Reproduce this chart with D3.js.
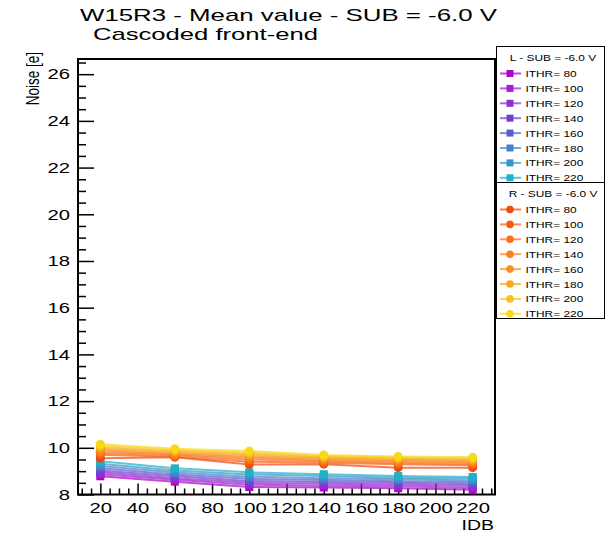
<!DOCTYPE html>
<html>
<head>
<meta charset="utf-8">
<script src="https://cdn.jsdelivr.net/npm/d3@7"></script>
<style>
  html, body { margin: 0; padding: 0; background: #fff; }
  svg text { font-family: "Liberation Sans", Arial, sans-serif; fill: #000; }
</style>
</head>
<body>
<div id="chart"></div>
<script>
// x values (IDB) and series labels (ITHR)
const idb = [20, 60, 100, 140, 180, 220];
const ithr = [80, 100, 120, 140, 160, 180, 200, 220];

// left half of the matrix, mean noise [e] per ITHR (rows) vs IDB (cols)
const noiseL = [
  [8.78, 8.55, 8.32, 8.30, 8.27, 8.20],
  [8.87, 8.63, 8.42, 8.38, 8.35, 8.28],
  [8.95, 8.70, 8.50, 8.46, 8.43, 8.36],
  [9.03, 8.78, 8.58, 8.54, 8.50, 8.44],
  [9.12, 8.86, 8.67, 8.62, 8.57, 8.52],
  [9.22, 8.94, 8.76, 8.70, 8.65, 8.60],
  [9.32, 9.03, 8.86, 8.79, 8.72, 8.68],
  [9.42, 9.12, 8.95, 8.87, 8.79, 8.75]
];
// right half
const noiseR = [
  [9.55, 9.60, 9.28, 9.30, 9.15, 9.15],
  [9.70, 9.62, 9.40, 9.36, 9.30, 9.25],
  [9.78, 9.68, 9.50, 9.42, 9.36, 9.32],
  [9.85, 9.72, 9.58, 9.48, 9.42, 9.38],
  [9.93, 9.78, 9.65, 9.54, 9.48, 9.44],
  [10.00, 9.84, 9.72, 9.59, 9.53, 9.49],
  [10.08, 9.90, 9.79, 9.64, 9.58, 9.54],
  [10.15, 9.96, 9.86, 9.69, 9.63, 9.59]
];
const errL = 0.06;
const errR = 0.14;

const colorsL = ['#b000c8', '#a020d0', '#8c30d0', '#7440d0', '#5860c8', '#4a80d0', '#3498c8', '#20b0c8'];
const colorsR = ['#f04a10', '#f85a10', '#f87018', '#f88020', '#f89020', '#f8a818', '#f8c020', '#f8d818'];

const xTicks = [20, 40, 60, 80, 100, 120, 140, 160, 180, 200, 220];
const yTicks = [8, 10, 12, 14, 16, 18, 20, 22, 24, 26];

const W = 606, H = 535;
const mLeft = 78, mRight = 495, mTop = 59, mBottom = 494.5;
const SX = 1.25; // the picture is a bit wider than tall, so stretch text

const svg = d3.select('#chart').append('svg')
  .attr('width', W)
  .attr('height', H);

const x = d3.scaleLinear().domain([8, 232]).range([mLeft, mRight]);
const y = d3.scaleLinear().domain([8, 26.65]).range([mBottom, mTop]);

// helper: text stretched horizontally
function label(g, tx, ty, str, size, anchor, sx) {
  return g.append('text')
    .attr('transform', `translate(${tx},${ty}) scale(${sx || SX},1)`)
    .attr('font-size', size)
    .attr('text-anchor', anchor || 'start')
    .text(str);
}

// title (two lines)
svg.append('text')
  .attr('x', 80).attr('y', 21)
  .attr('font-size', 17)
  .attr('textLength', 417)
  .attr('lengthAdjust', 'spacingAndGlyphs')
  .text('W15R3 - Mean value - SUB = -6.0 V');
svg.append('text')
  .attr('x', 93).attr('y', 40)
  .attr('font-size', 17)
  .attr('textLength', 225)
  .attr('lengthAdjust', 'spacingAndGlyphs')
  .text('Cascoded front-end');

// x axis: minor then major ticks, drawn inside the frame
const xMinor = d3.range(10, 232, 5).filter(v => v % 20 !== 0);
svg.append('g')
  .attr('transform', `translate(0,${mBottom})`)
  .call(d3.axisBottom(x).tickValues(xMinor).tickSizeInner(-6).tickSizeOuter(0).tickFormat(''))
  .call(g => g.select('.domain').remove())
  .call(g => g.selectAll('line').attr('stroke', '#000').attr('stroke-width', 1.5));

const xAxis = svg.append('g')
  .attr('transform', `translate(0,${mBottom})`)
  .call(d3.axisBottom(x).tickValues(xTicks).tickSizeInner(-11).tickSizeOuter(0).tickPadding(8))
  .call(g => g.select('.domain').remove())
  .call(g => g.selectAll('line').attr('stroke', '#000').attr('stroke-width', 1.5));
xAxis.selectAll('text')
  .attr('font-size', 15)
  .attr('fill', '#000')
  .attr('font-family', '"Liberation Sans", Arial, sans-serif')
  .attr('transform', 'scale(1.35,1)');

// y axis
const yMinor = d3.range(8, 26.65, 0.5).filter(v => v % 2 !== 0);
svg.append('g')
  .attr('transform', `translate(${mLeft},0)`)
  .call(d3.axisLeft(y).tickValues(yMinor).tickSizeInner(-8).tickSizeOuter(0).tickFormat(''))
  .call(g => g.select('.domain').remove())
  .call(g => g.selectAll('line').attr('stroke', '#000').attr('stroke-width', 1.5));

const yAxis = svg.append('g')
  .attr('transform', `translate(${mLeft},0)`)
  .call(d3.axisLeft(y).tickValues(yTicks).tickSizeInner(-16).tickSizeOuter(0).tickPadding(8))
  .call(g => g.select('.domain').remove())
  .call(g => g.selectAll('line').attr('stroke', '#000').attr('stroke-width', 1.5));
yAxis.selectAll('text')
  .attr('font-size', 15)
  .attr('fill', '#000')
  .attr('font-family', '"Liberation Sans", Arial, sans-serif')
  .attr('transform', 'scale(1.35,1)')
  .attr('x', -8 / 1.35);

// frame
svg.append('rect')
  .attr('x', mLeft).attr('y', mTop)
  .attr('width', mRight - mLeft).attr('height', mBottom - mTop)
  .attr('fill', 'none')
  .attr('stroke', '#000')
  .attr('stroke-width', 2);

// axis titles
svg.append('text')
  .attr('transform', 'translate(39,52) rotate(-90) scale(1,1.3)')
  .attr('font-size', 13.5)
  .attr('text-anchor', 'end')
  .text('Noise [e]');
label(svg, 494, 530, 'IDB', 15, 'end', 1.3);

// series
const plot = svg.append('g');
const line = d3.line().x((d, i) => x(idb[i])).y(d => y(d));

function drawSeries(values, colors, err, shape) {
  values.forEach((row, k) => {
    const c = colors[k];
    const g = plot.append('g');
    g.append('path')
      .attr('d', line(row))
      .attr('fill', 'none')
      .attr('stroke', c)
      .attr('stroke-opacity', 0.72)
      .attr('stroke-width', 2);
    g.selectAll('line.err')
      .data(row)
      .enter().append('line')
      .attr('class', 'err')
      .attr('x1', (d, i) => x(idb[i])).attr('x2', (d, i) => x(idb[i]))
      .attr('y1', d => y(d - err)).attr('y2', d => y(d + err))
      .attr('stroke', c)
      .attr('stroke-width', 2);
    if (shape === 'square') {
      g.selectAll('rect')
        .data(row)
        .enter().append('rect')
        .attr('x', (d, i) => x(idb[i]) - 4)
        .attr('y', d => y(d) - 4)
        .attr('width', 8).attr('height', 8)
        .attr('fill', c);
    } else {
      g.selectAll('circle')
        .data(row)
        .enter().append('circle')
        .attr('cx', (d, i) => x(idb[i]))
        .attr('cy', d => y(d))
        .attr('r', 4.5)
        .attr('fill', c);
    }
  });
}
drawSeries(noiseL, colorsL, errL, 'square');
drawSeries(noiseR, colorsR, errR, 'circle');

// legends
function drawLegend(y0, y1, header, colors, shape) {
  const g = svg.append('g');
  g.append('rect')
    .attr('x', 496.5).attr('y', y0)
    .attr('width', 108).attr('height', y1 - y0)
    .attr('fill', '#fff')
    .attr('stroke', '#000')
    .attr('stroke-width', 1);
  label(g, 553, y0 + 14.5, header, 9.5, 'middle', 1.25);
  ithr.forEach((v, k) => {
    const cy = y0 + 27 + k * 14.9;
    g.append('line')
      .attr('x1', 500).attr('x2', 521)
      .attr('y1', cy).attr('y2', cy)
      .attr('stroke', colors[k])
      .attr('stroke-opacity', 0.72)
      .attr('stroke-width', 2);
    if (shape === 'square') {
      g.append('rect')
        .attr('x', 506.5).attr('y', cy - 3.5)
        .attr('width', 7).attr('height', 7)
        .attr('fill', colors[k]);
    } else {
      g.append('circle')
        .attr('cx', 510).attr('cy', cy)
        .attr('r', 3.8)
        .attr('fill', colors[k]);
    }
    label(g, 525.5, cy + 3.5, 'ITHR= ' + v, 9.5, 'start', 1.25);
  });
}
drawLegend(46.5, 182.5, 'L - SUB = -6.0 V', colorsL, 'square');
drawLegend(182.5, 318.5, 'R - SUB = -6.0 V', colorsR, 'circle');
</script>
</body>
</html>
